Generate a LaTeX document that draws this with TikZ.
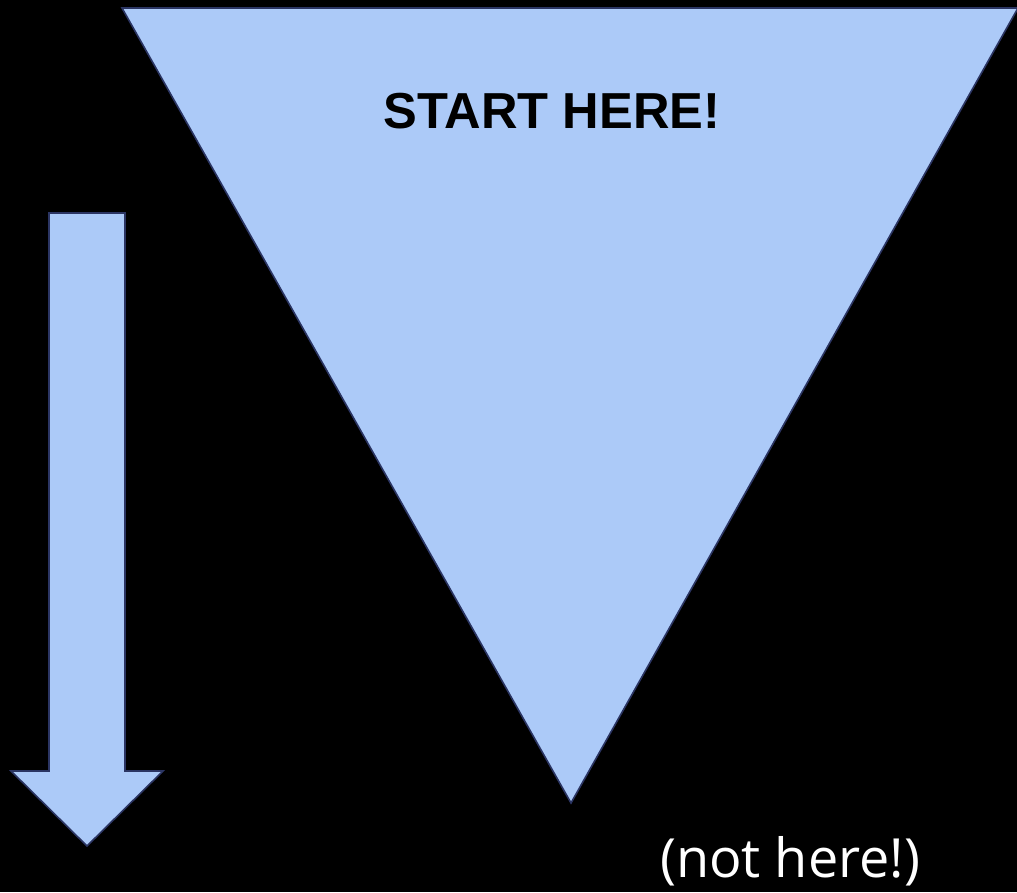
\documentclass[tikz,border=0pt]{standalone}
\usepackage{fontspec}
\setmainfont{Liberation Sans}
\newfontfamily\opensans{Open Sans}
\definecolor{fillblue}{HTML}{ACCAF8}
\definecolor{edgenavy}{HTML}{2B3563}
\begin{document}
\begin{tikzpicture}[x=1pt,y=-1pt,
  shapestyle/.style={fill=fillblue,draw=edgenavy,line width=1.6pt,line join=miter},
  titletext/.style={font=\fontsize{50.6}{58}\selectfont\bfseries,text=black,inner sep=0pt},
  notetext/.style={font=\opensans\fontsize{54}{62}\selectfont,text=white,inner sep=0pt}]
\useasboundingbox[fill=black] (0,0) rectangle (1017,892);
\coordinate (tl) at (122,8);
\coordinate (tr) at (1018,8);
\coordinate (tb) at (571,803);
\draw[shapestyle] (tl) -- (tr) -- (tb) -- cycle;
\draw[shapestyle] (49,213) -- (125,213) -- (125,771) -- (163,771) -- (87,846) -- (11,771) -- (49,771) -- cycle;
\node[titletext] (start) at (552,111) {START HERE!};
\node[notetext] (nothere) at (790,861) {(not here!)};
\end{tikzpicture}
\end{document}
